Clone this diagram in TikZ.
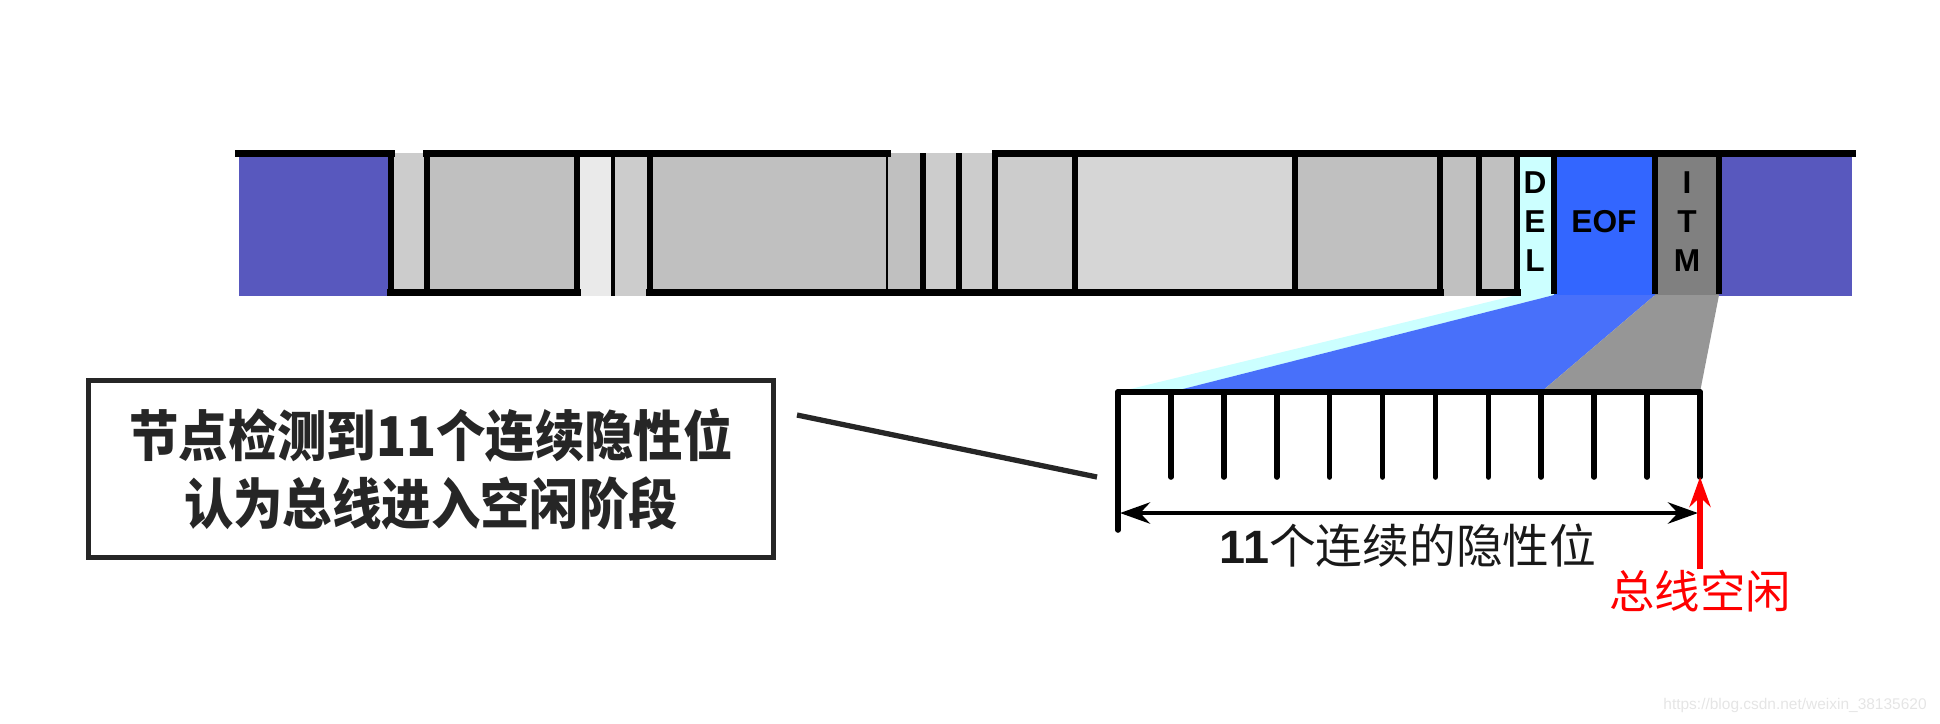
\documentclass[tikz,border=0pt]{standalone}
\usepackage{fontspec}
\setmainfont{Liberation Sans}
\newfontfamily\cjk{Noto Sans CJK SC}
\newfontfamily\cjknote[FakeStretch=0.9]{Noto Sans CJK SC}
\usepackage{tikz}
\usetikzlibrary{arrows.meta}
\definecolor{busblue}{RGB}{88,88,190}
\definecolor{eofblue}{RGB}{51,102,255}
\definecolor{fanblue}{RGB}{72,112,250}
\definecolor{delcyan}{RGB}{204,255,255}
\definecolor{itmgray}{RGB}{128,128,128}
\definecolor{fangray}{RGB}{150,150,150}
\definecolor{fieldgray}{RGB}{192,192,192}
\definecolor{dotgray}{RGB}{204,204,204}
\definecolor{litegray}{RGB}{214,214,214}
\definecolor{palegray}{RGB}{234,234,234}

\begin{document}
\begin{tikzpicture}[x=0.01cm, y=-0.01cm,
  barline/.style={line width=2pt, line cap=rect},
  fieldsep/.style={line width=1.7pt},
  bittick/.style={line width=1.6pt, line cap=round},
  fieldtxt/.style={font=\fontsize{9}{11.1}\selectfont\bfseries, align=center, inner sep=0pt},
  calloutbox/.style={draw=black!85, line width=1.5pt, minimum width=6.85cm, minimum height=1.77cm,
                     align=center, font=\cjknote\bfseries\fontsize{15.6}{19.4}\selectfont, text=black!85},
  leadline/.style={line width=1.5pt, black!85},
  spanarrow/.style={{Stealth[length=8.5pt,width=6pt]}-{Stealth[length=8.5pt,width=6pt]}, line width=1.4pt},
  idlearrow/.style={-{Stealth[length=8.5pt,width=6pt]}, red, line width=1.7pt}]
\useasboundingbox (0,0) rectangle (1940,723);
\foreach \a/\b/\c in {239/391/busblue, 391/427/dotgray, 427/577/fieldgray, 577/613/palegray,
                      613/650/dotgray, 650/887/fieldgray, 887/923/fieldgray, 923/959/dotgray,
                      959/995/dotgray, 995/1075/dotgray, 1075/1295/litegray, 1295/1440/fieldgray,
                      1440/1479/fieldgray, 1479/1517/fieldgray, 1517/1554/delcyan, 1554/1655/eofblue,
                      1655/1719/itmgray, 1719/1852/busblue}{
  \fill[\c] (\a,153) rectangle (\b,296);
}
\fill[delcyan] (1517,295) -- (1554,295) -- (1171,392) -- (1118,392) -- cycle;
\fill[fanblue] (1554,295) -- (1655,295) -- (1541,392) -- (1171,392) -- cycle;
\fill[fangray] (1655,295) -- (1719,295) -- (1700,392) -- (1541,392) -- cycle;
\draw[barline] (239,153) -- (391,153);
\draw[barline] (427,153) -- (887,153);
\draw[barline] (995,153) -- (1852,153);
\draw[barline] (391,292) -- (577,292);
\draw[barline] (650,292) -- (1440,292);
\draw[barline] (1479,292) -- (1517,292);
\foreach \x in {391,427,577,650,923,959,995,1075,1295,1440,1479,1517,1554,1655,1719}
  \draw[fieldsep] (\x,153) -- (\x,294);
\draw[line width=1.1pt] (613,153) -- (613,296);
\draw[line width=0.6pt] (887,153) -- (887,294);
\node[fieldtxt] (del) at (1535,222) {D\\E\\L};
\node[fieldtxt] (eof) at (1604,222) {EOF};
\node[fieldtxt] (itm) at (1687,222) {I\\T\\M};
\draw[bittick] (1118,392) -- (1700,392);
\draw[bittick] (1118,392) -- (1118,530);
\foreach \k in {1,...,11}
  \draw[bittick] (1118+52.91*\k,392) -- (1118+52.91*\k,477);
\coordinate (spanL) at (1120,513);
\coordinate (spanR) at (1698,513);
\draw[spanarrow] (spanL) -- (spanR);
\node[font=\fontsize{13.3}{16}\selectfont, text=black!90] (bits) at (1408,546)
  {{\bfseries 11}{\cjk 个连续的隐性位}};
\node[inner sep=0pt, text=red, font=\cjk\fontsize{12.9}{15}\selectfont] (idle) at (1700,591) {总线空闲};
\coordinate (idletip) at (1700,477);
\draw[idlearrow] (idle.north) -- (idletip);
\node[calloutbox] (note) at (431,469) {节点检测到11个连续隐性位\\认为总线进入空闲阶段};
\coordinate (leadA) at (797,415);
\coordinate (leadB) at (1097,477);
\draw[leadline] (leadA) -- (leadB);
\node[text=black!10, font=\fontsize{4.4}{5}\selectfont] (mark) at (1795,705) {https://blog.csdn.net/weixin\_38135620};
\end{tikzpicture}
\end{document}
